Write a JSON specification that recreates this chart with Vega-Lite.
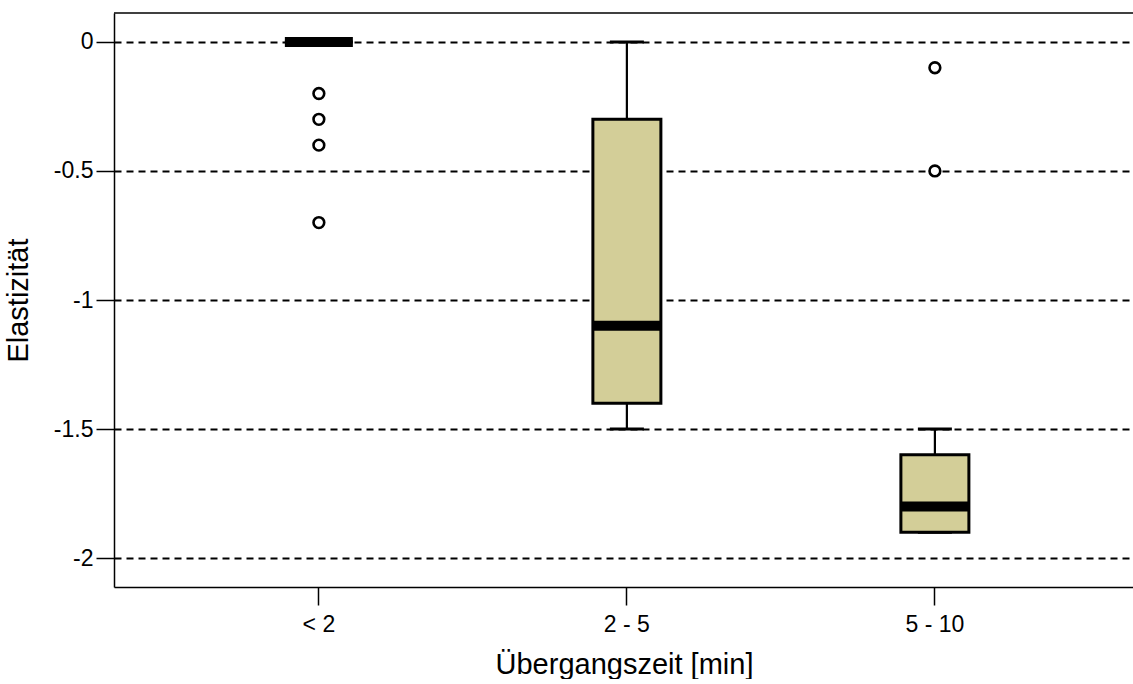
{
  "$schema": "https://vega.github.io/schema/vega-lite/v6.json",
  "width": 1020,
  "height": 574,
  "padding": {"left": 4, "top": 12, "right": 0, "bottom": 0},
  "background": "white",
  "config": {
    "view": {"stroke": null},
    "font": "Liberation Sans",
    "axis": {
      "domainColor": "black",
      "domainWidth": 1.5,
      "tickColor": "black",
      "tickWidth": 1.5,
      "tickSize": 18,
      "labelColor": "black",
      "labelFont": "Liberation Sans",
      "labelFontSize": 23,
      "titleColor": "black",
      "titleFont": "Liberation Sans",
      "titleFontSize": 29,
      "titleFontWeight": "normal"
    }
  },
  "datasets": {
    "boxes": [
      {"zeit": "< 2", "q1": 0, "q3": 0, "median": 0, "lower": 0, "upper": 0},
      {"zeit": "2 - 5", "q1": -1.4, "q3": -0.3, "median": -1.1, "lower": -1.5, "upper": 0},
      {"zeit": "5 - 10", "q1": -1.9, "q3": -1.6, "median": -1.8, "lower": -1.9, "upper": -1.5}
    ],
    "outliers": [
      {"zeit": "< 2", "elastizitaet": -0.2},
      {"zeit": "< 2", "elastizitaet": -0.3},
      {"zeit": "< 2", "elastizitaet": -0.4},
      {"zeit": "< 2", "elastizitaet": -0.7},
      {"zeit": "5 - 10", "elastizitaet": -0.1},
      {"zeit": "5 - 10", "elastizitaet": -0.5}
    ]
  },
  "layer": [
    {
      "data": {"name": "boxes"},
      "mark": {"type": "rule", "color": "black", "strokeWidth": 2.2},
      "encoding": {
        "x": {
          "field": "zeit",
          "type": "ordinal",
          "sort": ["< 2", "2 - 5", "5 - 10"],
          "scale": {"paddingInner": 0, "paddingOuter": 0.1558, "align": 0.53},
          "axis": {
            "title": "Übergangszeit [min]",
            "labelAngle": 0,
            "labelPadding": 8,
            "titlePadding": 14
          }
        },
        "y": {
          "field": "lower",
          "type": "quantitative",
          "scale": {"domain": [-2.112, 0.112], "nice": false, "zero": false},
          "axis": {
            "title": "Elastizität",
            "values": [0, -0.5, -1, -1.5, -2],
            "labelExpr": "'' + datum.value",
            "labelPadding": 3,
            "titlePadding": 20,
            "grid": true,
            "gridColor": "black",
            "gridWidth": 2,
            "gridDash": [7, 5],
            "gridOpacity": 1
          }
        },
        "y2": {"field": "upper"}
      }
    },
    {
      "data": {"name": "boxes"},
      "mark": {"type": "tick", "color": "black", "opacity": 1, "size": 34, "thickness": 3},
      "encoding": {
        "x": {"field": "zeit", "type": "ordinal", "sort": ["< 2", "2 - 5", "5 - 10"]},
        "y": {"field": "upper", "type": "quantitative"}
      }
    },
    {
      "data": {"name": "boxes"},
      "mark": {"type": "tick", "color": "black", "opacity": 1, "size": 34, "thickness": 3},
      "encoding": {
        "x": {"field": "zeit", "type": "ordinal", "sort": ["< 2", "2 - 5", "5 - 10"]},
        "y": {"field": "lower", "type": "quantitative"}
      }
    },
    {
      "data": {"name": "boxes"},
      "mark": {"type": "bar", "size": 68, "fill": "#D3CE98", "stroke": "black", "strokeWidth": 3, "opacity": 1},
      "encoding": {
        "x": {"field": "zeit", "type": "ordinal", "sort": ["< 2", "2 - 5", "5 - 10"]},
        "y": {"field": "q3", "type": "quantitative"},
        "y2": {"field": "q1"}
      }
    },
    {
      "data": {"name": "boxes"},
      "mark": {"type": "tick", "color": "black", "opacity": 1, "size": 68, "thickness": 10},
      "encoding": {
        "x": {"field": "zeit", "type": "ordinal", "sort": ["< 2", "2 - 5", "5 - 10"]},
        "y": {"field": "median", "type": "quantitative"}
      }
    },
    {
      "data": {"name": "outliers"},
      "mark": {"type": "point", "shape": "circle", "size": 115, "filled": false, "fill": "white", "fillOpacity": 1, "stroke": "black", "strokeWidth": 2.6, "opacity": 1},
      "encoding": {
        "x": {"field": "zeit", "type": "ordinal", "sort": ["< 2", "2 - 5", "5 - 10"]},
        "y": {"field": "elastizitaet", "type": "quantitative"}
      }
    },
    {
      "data": {"values": [{}]},
      "mark": {"type": "rule", "color": "black", "strokeWidth": 1.5},
      "encoding": {"y": {"datum": 0.112, "type": "quantitative"}}
    }
  ]
}
